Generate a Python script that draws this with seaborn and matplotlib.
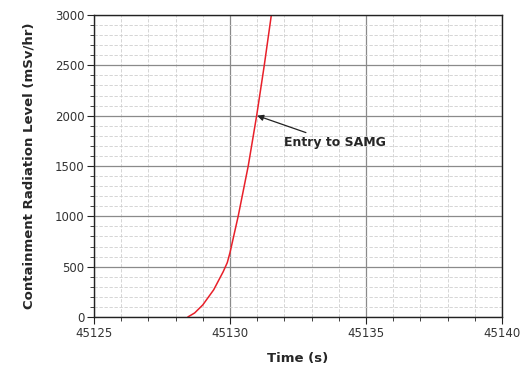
import matplotlib

matplotlib.use("Agg")
import matplotlib.pyplot as plt
import numpy as np
import pandas as pd
import seaborn as sns
from matplotlib.ticker import MultipleLocator, FormatStrFormatter

# okunan degerler (grafikten tahmini)
zaman = [45128.45, 45128.7, 45129.0, 45129.4, 45129.75, 45129.9,
         45130.0, 45130.3, 45130.67, 45130.98, 45131.26, 45131.52]
radyasyon = [0, 40, 120, 270, 450, 540,
             640, 1000, 1500, 2000, 2500, 3000]
ok_nokta = (45131.0, 2000)
ok_etiket = "Entry to SAMG"

sns.set_theme(style="white")
plt.rcParams["font.family"] = ["DejaVu Sans"]

df = pd.DataFrame({"t": zaman, "r": radyasyon})

fig = plt.figure(figsize=(5.24, 3.71), dpi=100)
ax = fig.add_axes([0.1794, 0.1456, 0.7786, 0.814])
sns.lineplot(data=df, x="t", y="r", color="#e8202a", lw=1.1, ax=ax)

ax.set_xlim(45125, 45140)
ax.set_ylim(0, 3000)
ax.xaxis.set_major_locator(MultipleLocator(5))
ax.xaxis.set_minor_locator(MultipleLocator(1))
ax.yaxis.set_major_locator(MultipleLocator(500))
ax.yaxis.set_minor_locator(MultipleLocator(100))
ax.xaxis.set_major_formatter(FormatStrFormatter("%d"))
ax.grid(which="major", color="#8a8a8a", lw=0.9, ls="-")
ax.grid(which="minor", color="#cfcfcf", lw=0.6, ls=(0, (4, 2)))
ax.set_axisbelow(True)
for s in ax.spines.values():
    s.set_color("#222222")
    s.set_linewidth(1.0)
ax.tick_params(which="major", direction="out", length=5, width=0.8,
               color="#222222", labelsize=8.5, labelcolor="#333333",
               bottom=True, left=True, pad=2)
ax.tick_params(which="minor", direction="out", length=3, width=0.6,
               color="#222222", bottom=True, left=True)

ax.set_xlabel("Time (s)", fontsize=9.5, fontweight="bold", labelpad=9)
ax.set_ylabel("Containment Radiation Level (mSv/hr)", fontsize=9.5,
              fontweight="bold", labelpad=14)

ax.annotate(ok_etiket, xy=ok_nokta, xytext=(45132.0, 1730),
            fontsize=9, fontweight="bold", va="center", ha="left",
            arrowprops=dict(arrowstyle="-|>", color="#222222", lw=0.9,
                            mutation_scale=9, shrinkA=1, shrinkB=0))

fig.savefig("out.png", dpi=100)
